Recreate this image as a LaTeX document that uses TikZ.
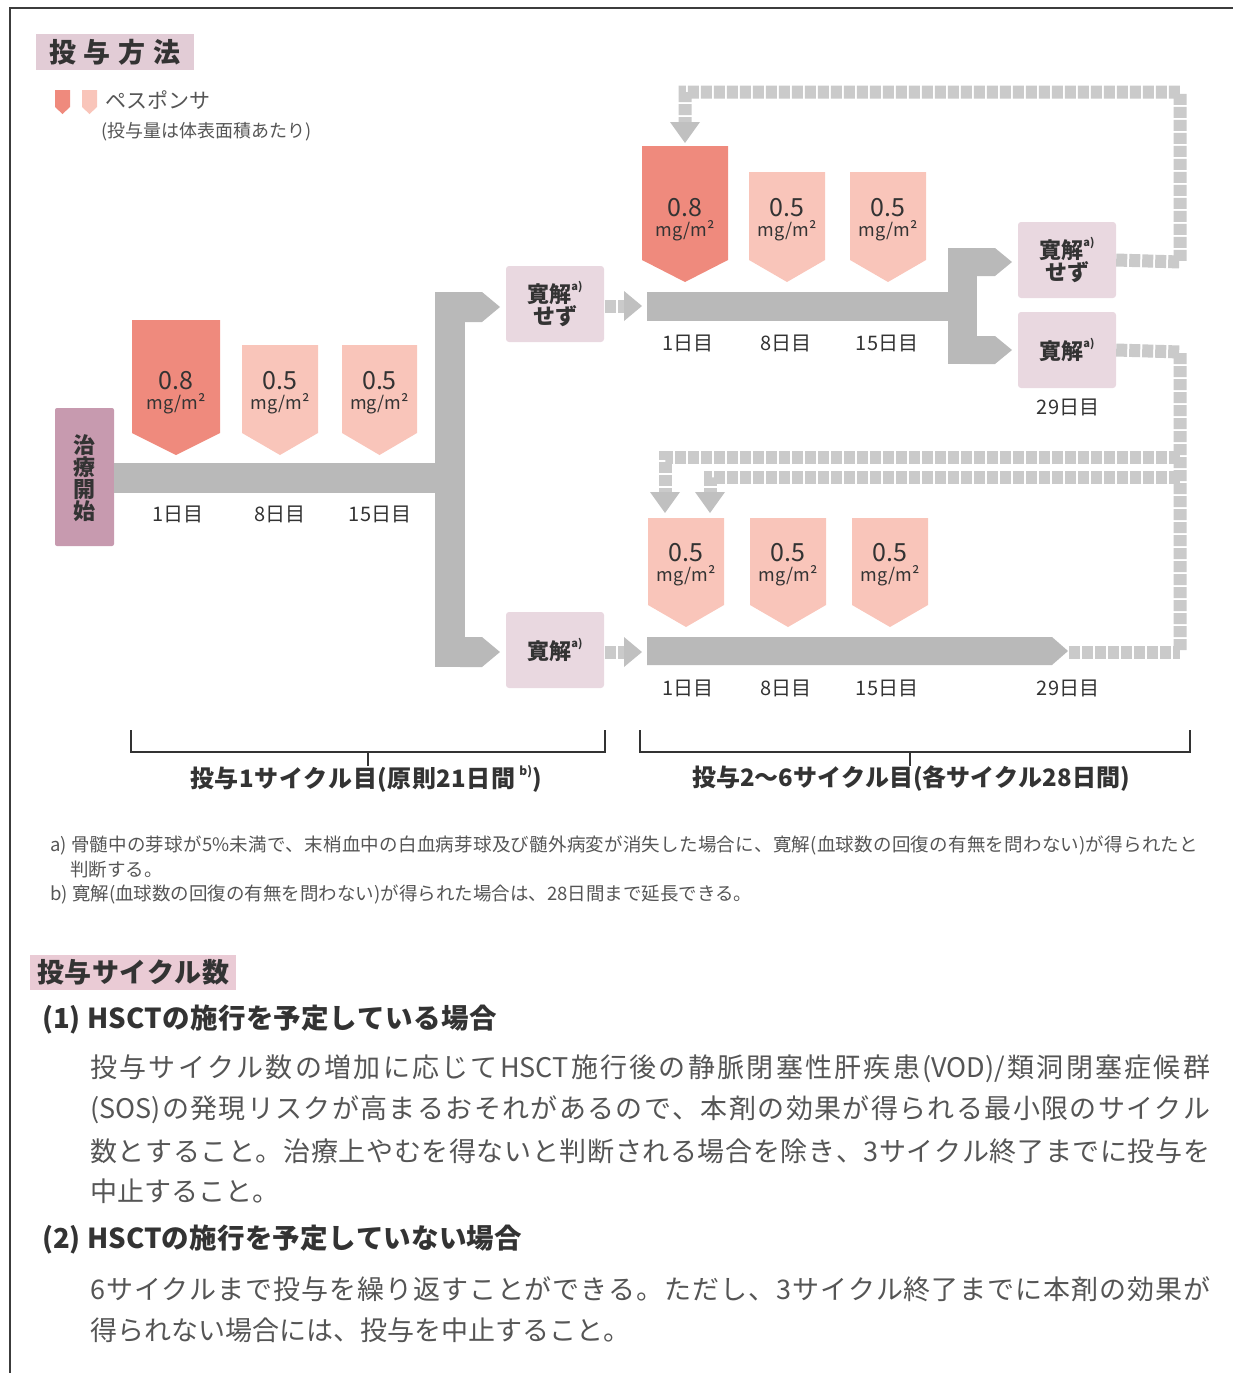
\documentclass[tikz,border=0pt]{standalone}
\usepackage{fontspec}
\setmainfont{Noto Sans CJK JP}
\usetikzlibrary{arrows.meta}
\definecolor{framecol}{HTML}{3C3C3C}
\definecolor{hdrpink}{HTML}{E2CCD6}
\definecolor{hdrpink2}{HTML}{EACBD5}
\definecolor{startcol}{HTML}{C79AAF}
\definecolor{remitcol}{HTML}{E9D8E0}
\definecolor{dosedark}{HTML}{EF8A7D}
\definecolor{doselight}{HTML}{F9C5BA}
\definecolor{bargray}{HTML}{B9B9B9}
\definecolor{dashgray}{HTML}{CACACA}
\definecolor{txtdark}{HTML}{333333}
\definecolor{txtbody}{HTML}{555555}
\newcommand\myfs[1]{\fontsize{#1}{#1}\selectfont}
\newcommand\supa{\raisebox{0.55em}{\myfs{11}a)}}
\newcommand\supb{\raisebox{0.5em}{\myfs{12}b)}}
% character classes for CJK, used for inter-character stretch in justified lines
\newcount\mycc
\mycc="3000 \loop \XeTeXcharclass\mycc=1 \advance\mycc by 1 \ifnum\mycc<"3100 \repeat
\mycc="4E00 \loop \XeTeXcharclass\mycc=1 \advance\mycc by 1 \ifnum\mycc<"A000 \repeat
\mycc="FF00 \loop \XeTeXcharclass\mycc=1 \advance\mycc by 1 \ifnum\mycc<"FF60 \repeat
\XeTeXinterchartoks 0 1 = {\hskip0pt plus 1fil}
\XeTeXinterchartoks 1 0 = {\hskip0pt plus 1fil}
\XeTeXinterchartoks 1 1 = {\hskip0pt plus 1fil}
\newcommand\justline[2]{\makebox[#1][s]{\XeTeXinterchartokenstate=1 #2}}
\tikzset{
  bar/.style={fill=bargray},
  loopline/.style={draw=dashgray, line width=13, dash pattern=on 11 off 2},
  loophead/.style={fill=dashgray!95!black},
  remitbox/.style={fill=remitcol, rounded corners=3, minimum width=98, minimum height=76, align=center, text=txtdark, font=\myfs{22}\bfseries, inner sep=0},
  daylbl/.style={text=txtdark, font=\myfs{20}, inner sep=0},
  doseval/.style={text=txtdark, font=\myfs{25}, inner sep=0},
  doseunit/.style={text=txtdark, font=\myfs{18}, inner sep=0},
  body/.style={anchor=west, text=txtbody, font=\myfs{27}, inner sep=0},
  subhead/.style={anchor=west, text=txtdark, font=\myfs{27.5}\bfseries, inner sep=0},
  foot/.style={anchor=west, text=txtbody, font=\myfs{18.5}, inner sep=0},
  cyclbl/.style={text=txtdark, font=\myfs{24}\bfseries, inner sep=0},
}
% #1 name, #2 xl, #3 xr, #4 ytop, #5 ytip, #6 colour, #7 value
\newcommand\dosebox[7]{%
  \fill[#6] (#2,#4) -- (#3,#4) -- (#3,#5-22) -- ({(#2+#3)/2},#5) -- (#2,#5-22) -- cycle;
  \node[doseval] (#1) at ({(#2+#3)/2},#5-74) {#7};
  \node[doseunit] (#1u) at ({(#2+#3)/2},#5-51) {mg/m²};
}
\begin{document}
\begin{tikzpicture}[x=1pt,y=-1pt]
\useasboundingbox (0,0) rectangle (1233,1373);
% frame
\draw[framecol, line width=1.5] (10,1373) -- (10,8) -- (1233,8);
% header
\fill[hdrpink] (36,34) rectangle (194,70);
\node[text=txtdark, font=\myfs{27}\bfseries, inner sep=0] (hdr) at (115,52) {投\hspace{8pt}与\hspace{8pt}方\hspace{8pt}法};
% legend
\fill[dosedark] (55,90) -- (70,90) -- (70,107) -- (62.5,114) -- (55,107) -- cycle;
\fill[doselight] (82,90) -- (97,90) -- (97,107) -- (89.5,114) -- (82,107) -- cycle;
\node[anchor=west, text=txtbody, font=\myfs{21}, inner sep=0] (leg1) at (105,100) {ペスポンサ};
\node[anchor=west, text=txtbody, font=\myfs{18}, inner sep=0] (leg2) at (101,132) {(投与量は体表面積あたり)};

% ===== cycle 1 =====
\fill[startcol, rounded corners=2] (55,408) rectangle (114,546);
\node[text=txtdark, font=\myfs{22}\bfseries, align=center, inner sep=0] (start) at (84.5,478) {\fontsize{22}{25.5}\selectfont 治\\療\\開\\始};
\fill[bar] (114,463) rectangle (450,493);
\fill[bar] (435,292) rectangle (465,667);
\fill[bar] (460,292) -- (482,292) -- (500,307) -- (482,322) -- (460,322) -- cycle;
\fill[bar] (460,637) -- (482,637) -- (500,652) -- (482,667) -- (460,667) -- cycle;
\dosebox{c1a}{132}{220}{320}{455}{dosedark}{0.8}
\dosebox{c1b}{242}{318}{345}{455}{doselight}{0.5}
\dosebox{c1c}{342}{417}{345}{455}{doselight}{0.5}
\node[daylbl] (d1a) at (178,514) {1日目};
\node[daylbl] (d1b) at (280,514) {8日目};
\node[daylbl] (d1c) at (380,514) {15日目};
\node[remitbox] (nr1) at (555,304) {\fontsize{22}{26}\selectfont 寛解\supa\\せず};
\node[remitbox] (r1) at (555,650) {寛解\supa};

% small arrows into cycle 2
\coordinate (a1s) at (605,306); \coordinate (a1e) at (626,306);
\draw[loopline] (a1s) -- (a1e);
\fill[loophead] (624,291) -- (642,306) -- (624,321) -- cycle;
\coordinate (a2s) at (605,652); \coordinate (a2e) at (626,652);
\draw[loopline] (a2s) -- (a2e);
\fill[loophead] (624,637) -- (642,652) -- (624,667) -- cycle;

% ===== cycle 2 (top) =====
\fill[bar] (647,292) rectangle (962,321);
\fill[bar] (948,248) rectangle (977,364);
\fill[bar] (970,248) -- (995,248) -- (1012,262) -- (995,276) -- (970,276) -- cycle;
\fill[bar] (970,336) -- (995,336) -- (1012,350) -- (995,364) -- (970,364) -- cycle;
\dosebox{c2a}{642}{728}{146}{282}{dosedark}{0.8}
\dosebox{c2b}{749}{825}{172}{282}{doselight}{0.5}
\dosebox{c2c}{850}{926}{172}{282}{doselight}{0.5}
\node[daylbl] (d2a) at (688,343) {1日目};
\node[daylbl] (d2b) at (786,343) {8日目};
\node[daylbl] (d2c) at (887,343) {15日目};
\node[remitbox] (nr2) at (1067,260) {\fontsize{22}{26}\selectfont 寛解\supa\\せず};
\node[remitbox] (r2) at (1067,350) {寛解\supa};
\node[daylbl] (d2d) at (1068,407) {29日目};

% loop: no remission -> back to day 1 (0.8)
\coordinate (lpA1) at (1180,262);
\coordinate (lpA2) at (1180,92);
\coordinate (lpA3) at (685,92);
\coordinate (lpA4) at (685,124);
\draw[loopline] (nr2.east) -- (lpA1) -- (lpA2) -- (lpA3) -- (lpA4);
\fill[loophead] (670,122) -- (700,122) -- (685,143) -- cycle;

% ===== cycle 2-6 (bottom) =====
\fill[bar] (647,637) -- (1052,637) -- (1068,651) -- (1052,665) -- (647,665) -- cycle;
\dosebox{c3a}{648}{724}{518}{627}{doselight}{0.5}
\dosebox{c3b}{750}{826}{518}{627}{doselight}{0.5}
\dosebox{c3c}{852}{928}{518}{627}{doselight}{0.5}
\node[daylbl] (d3a) at (688,688) {1日目};
\node[daylbl] (d3b) at (786,688) {8日目};
\node[daylbl] (d3c) at (887,688) {15日目};
\node[daylbl] (d3d) at (1068,688) {29日目};

% remission loops
\coordinate (lpB1) at (1180,352);
\coordinate (lpB2) at (1180,652);
\coordinate (lpB0) at (1069,652);
\coordinate (lpC1) at (1180,457);
\coordinate (lpC2) at (665,457);
\coordinate (lpC3) at (665,494);
\coordinate (lpD1) at (1180,477);
\coordinate (lpD2) at (710,477);
\coordinate (lpD3) at (710,494);
\draw[loopline] (r2.east) -- (lpB1) -- (lpB2);
\draw[loopline] (lpB0) -- (lpB2);
\draw[loopline] (lpC1) -- (lpC2) -- (lpC3);
\draw[loopline] (lpD1) -- (lpD2) -- (lpD3);
\fill[loophead] (650,492) -- (680,492) -- (665,513) -- cycle;
\fill[loophead] (695,492) -- (725,492) -- (710,513) -- cycle;

% brackets
\draw[txtdark, line width=1.2] (131,730) -- (131,752) -- (605,752) -- (605,730);
\draw[txtdark, line width=1.2] (368,752) -- (368,766);
\draw[txtdark, line width=1.2] (640,730) -- (640,752) -- (1190,752) -- (1190,730);
\draw[txtdark, line width=1.2] (910,752) -- (910,766);
\node[cyclbl] (cy1) at (366,779) {\justline{325pt}{投与1サイクル目(原則21日間}\,\supb)};
\node[cyclbl] (cy2) at (910,779) {\justline{436pt}{投与2〜6サイクル目(各サイクル28日間)}};

% footnotes
\node[foot] (fa) at (50,845) {\justline{1148pt}{a) 骨髄中の芽球が5\%未満で、末梢血中の白血病芽球及び髄外病変が消失した場合に、寛解(血球数の回復の有無を問わない)が得られたと}};
\node[foot] (fa2) at (70,870) {判断する。};
\node[foot] (fb) at (50,894) {b) 寛解(血球数の回復の有無を問わない)が得られた場合は、28日間まで延長できる。};

% cycle count section
\fill[hdrpink2] (30,955) rectangle (236,990);
\node[anchor=west, text=txtdark, font=\myfs{27}\bfseries, inner sep=0] (hdr2) at (37,972) {\justline{192pt}{投与サイクル数}};
\node[subhead] (s1) at (42,1020) {\justline{455pt}{(1) HSCTの施行を予定している場合}};
\node[body] (b1) at (90,1069) {\justline{1120pt}{投与サイクル数の増加に応じてHSCT施行後の静脈閉塞性肝疾患(VOD)/類洞閉塞症候群}};
\node[body] (b2) at (90,1110) {\justline{1120pt}{(SOS)の発現リスクが高まるおそれがあるので、本剤の効果が得られる最小限のサイクル}};
\node[body] (b3) at (90,1151) {\justline{1120pt}{数とすること。治療上やむを得ないと判断される場合を除き、3サイクル終了までに投与を}};
\node[body] (b4) at (90,1191) {中止すること。};
\node[subhead] (s2) at (42,1240) {\justline{480pt}{(2) HSCTの施行を予定していない場合}};
\node[body] (b5) at (90,1289) {\justline{1120pt}{6サイクルまで投与を繰り返すことができる。ただし、3サイクル終了までに本剤の効果が}};
\node[body] (b6) at (90,1330) {得られない場合には、投与を中止すること。};
\end{tikzpicture}
\end{document}
